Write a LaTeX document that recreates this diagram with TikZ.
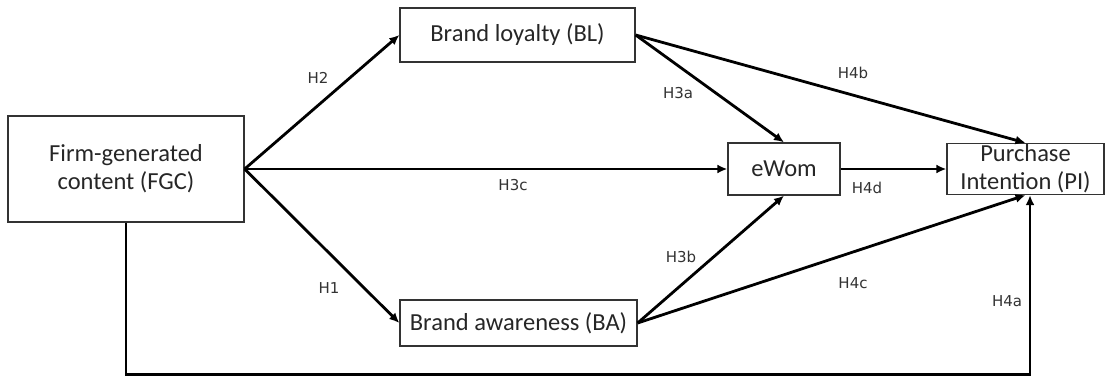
\documentclass[tikz,border=0pt]{standalone}
\usepackage{fontspec}
\setmainfont{Carlito}
\newfontfamily\labfont{DejaVu Sans}
\usetikzlibrary{arrows.meta,calc}
\begin{document}
\begin{tikzpicture}[x=1pt,y=1pt,
  box/.style={draw=black!80,line width=1.3pt,inner sep=0pt,align=center,
    font=\fontsize{24.5}{28}\selectfont,text=black!85},
  conn/.style={line width=2.8pt,-{Latex[length=10pt,width=9pt]}},
  hlab/.style={font=\labfont\fontsize{15}{18}\selectfont,text=black!80}]
\useasboundingbox (0,0) rectangle (1105,381);
\node[box,minimum width=236pt,minimum height=106pt] (FGC) at (126,212) {Firm-generated\\content (FGC)};
\node[box,minimum width=235pt,minimum height=54pt] (BL) at (517.5,346) {Brand loyalty (BL)};
\node[box,minimum width=112pt,minimum height=52pt] (EW) at (784,212) {eWom};
\node[box,minimum width=157pt,minimum height=51pt] (PI) at (1025.5,212) {Purchase\\Intention (PI)};
\node[box,minimum width=237pt,minimum height=46pt] (BA) at (518.5,58) {Brand awareness (BA)};
\coordinate (PIin) at ($(PI.south)+(4.5,0)$);
\draw[conn] (FGC.east) -- (BL.west);
\draw[conn] (FGC.east) -- (EW.west);
\draw[conn] (FGC.east) -- (BA.west);
\draw[conn] (BL.east) -- (EW.north);
\draw[conn] (BL.east) -- (PI.north);
\draw[conn] (BA.east) -- (EW.south);
\draw[conn] (BA.east) -- (PI.south);
\draw[conn] (EW.east) -- (PI.west);
\draw[conn] (FGC.south) -- ++(0,-152) -| (PIin);
\node[hlab] (h2) at (318,303) {H2};
\node[hlab] (h1) at (329,93) {H1};
\node[hlab] (h3c) at (513,196) {H3c};
\node[hlab] (h3a) at (678,288) {H3a};
\node[hlab] (h4b) at (853,308) {H4b};
\node[hlab] (h3b) at (681,124) {H3b};
\node[hlab] (h4c) at (853,98) {H4c};
\node[hlab] (h4a) at (1007,80) {H4a};
\node[hlab] (h4d) at (867,193) {H4d};
\end{tikzpicture}
\end{document}
